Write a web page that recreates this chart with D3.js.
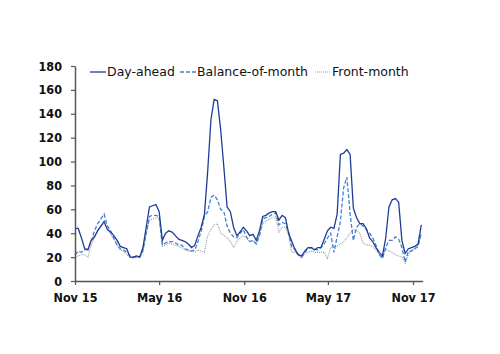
<!DOCTYPE html>
<html>
<head>
<meta charset="utf-8">
<script src="https://cdn.jsdelivr.net/npm/d3@7"></script>
<style>
body { margin: 0; background: #fff; }
text { font-family: "DejaVu Sans Condensed", "DejaVu Sans", sans-serif; }
.tickText { font-size: 12.5px; font-weight: bold; fill: #111; }
.legendText { font-family: "DejaVu Sans", sans-serif; font-size: 12.5px; fill: #111; }
</style>
</head>
<body>
<svg id="chart" width="500" height="354"></svg>
<script>
// weekly points starting 1 Nov 2015
let startDate = new Date(2015, 10, 1);

let dayAhead = [44, 44, 36, 27, 26, 34, 37, 42, 46, 50, 43, 41, 38, 34, 29, 28, 27, 20, 20, 21,
	20, 28, 45, 62, 63, 64, 58, 34, 40, 42, 41, 38, 35, 34, 33, 31, 28, 30, 38, 45,
	56, 92, 135, 152, 151, 127, 95, 62, 58, 45, 38, 41, 45, 42, 38, 39, 34, 42, 54, 55,
	57, 58, 58, 51, 55, 53, 40, 33, 26, 22, 21, 25, 28, 28, 26, 28, 28, 35, 42, 45,
	44, 56, 106, 107, 110, 106, 61, 53, 48, 48, 44, 36, 33, 28, 24, 21, 36, 62, 68, 69,
	66, 34, 23, 27, 28, 29, 31, 47];

let balanceOfMonth = [22, 25, 24, 26, 27, 33, 42, 48, 52, 56, 46, 42, 36, 30, 27, 26, 24, 21, 20, 20,
	20, 26, 40, 54, 55, 55, 54, 30, 32, 33, 33, 32, 30, 30, 27, 26, 25, 26, 33, 42,
	54, 58, 70, 72, 68, 60, 58, 46, 40, 37, 36, 40, 43, 37, 33, 34, 31, 38, 52, 53,
	54, 56, 57, 47, 49, 48, 41, 28, 27, 22, 20, 24, 27, 28, 27, 26, 28, 31, 36, 40,
	24, 37, 50, 78, 87, 56, 34, 45, 48, 46, 43, 40, 36, 30, 22, 19, 28, 34, 34, 37,
	35, 28, 16, 25, 25, 27, 29, 40];

let frontMonth = [20, 21, 22, 22, 20, 30, 36, 43, 46, 48, 44, 39, 35, 30, 26, 25, 22, 20, 19, 20,
	20, 24, 40, 51, 52, 53, 52, 29, 30, 32, 31, 30, 29, 28, 26, 25, 25, 24, 26, 25,
	24, 38, 43, 47, 48, 40, 38, 36, 33, 28, 33, 36, 38, 36, 33, 34, 31, 38, 48, 50,
	52, 53, 54, 41, 45, 45, 38, 24, 24, 22, 19, 23, 24, 25, 24, 24, 24, 24, 19, 28,
	29, 29, 31, 33, 36, 40, 43, 42, 40, 32, 30, 30, 29, 26, 22, 19, 27, 25, 24, 22,
	21, 20, 15, 22, 26, 27, 30, 40];

let seriesNames = ["Day-ahead", "Balance-of-month", "Front-month"];
let xTickDates = [new Date(2015, 10, 1), new Date(2016, 4, 1), new Date(2016, 10, 1), new Date(2017, 4, 1), new Date(2017, 10, 1)];
let yTicks = [0, 20, 40, 60, 80, 100, 120, 140, 160, 180];

function drawChart()
{
	let svg = d3.select("#chart");

	let x = d3.scaleTime().domain([new Date(2015, 10, 1), new Date(2017, 10, 22)]).range([75, 422.7]);
	let y = d3.scaleLinear().domain([0, 180]).range([281, 66]);

	let dates = dayAhead.map(function(d, i) { return d3.timeDay.offset(startDate, 7 * i); });

	let styles = [
		{data: dayAhead, color: "#1f3c94", dash: null, width: 1.3},
		{data: balanceOfMonth, color: "#3f80d6", dash: "4,2", width: 1.3},
		{data: frontMonth, color: "#9a9a9a", dash: "1,1", width: 1.1}
	];

	let line = d3.line().x(function(d) { return x(d.date); }).y(function(d) { return y(d.value); });

	// draw grey first so the day-ahead sits on top
	for (let s = styles.length - 1; s >= 0; s--)
	{
		let pts = styles[s].data.map(function(v, i) { return {date: dates[i], value: v}; });
		svg.append("path").datum(pts).attr("d", line).attr("fill", "none")
			.attr("stroke", styles[s].color).attr("stroke-width", styles[s].width)
			.attr("stroke-dasharray", styles[s].dash);
	}

	let yAxis = svg.append("g").attr("transform", "translate(75,0)")
		.call(d3.axisLeft(y).tickValues(yTicks).tickSize(4).tickPadding(9).tickSizeOuter(0));
	yAxis.selectAll("text").attr("class", "tickText");

	let xAxis = svg.append("g").attr("transform", "translate(0,281)")
		.call(d3.axisBottom(x).tickValues(xTickDates).tickFormat(d3.timeFormat("%b %y")).tickSize(4).tickPadding(8).tickSizeOuter(0));
	xAxis.selectAll("text").attr("class", "tickText");

	svg.selectAll(".domain").attr("stroke", "#555").attr("stroke-width", 1.5);
	svg.selectAll(".tick line").attr("stroke", "#555").attr("stroke-width", 1.2);

	// legend
	let legendX = [90, 180, 315];
	for (let s = 0; s < seriesNames.length; s++)
	{
		let g = svg.append("g").attr("transform", "translate(" + legendX[s] + ",72)");
		g.append("line").attr("x1", 0).attr("x2", 16).attr("y1", 0).attr("y2", 0)
			.attr("stroke", styles[s].color).attr("stroke-width", styles[s].width)
			.attr("stroke-dasharray", styles[s].dash);
		g.append("text").attr("x", 17).attr("y", 0).attr("dy", "0.35em").attr("class", "legendText").text(seriesNames[s]);
	}
}

drawChart();
</script>
</body>
</html>
